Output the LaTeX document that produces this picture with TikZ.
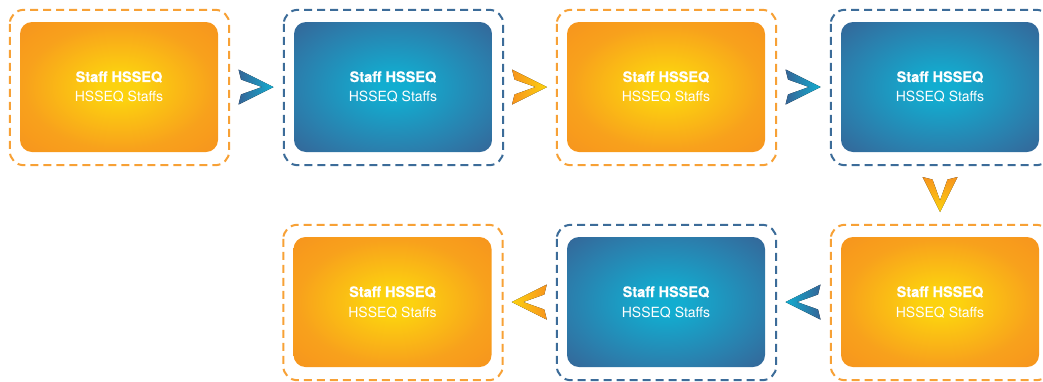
\documentclass[tikz,border=0pt]{standalone}
\usepackage{fontspec}
\setmainfont{TeX Gyre Heros}
\newfontfamily\heavyfont[FakeBold=0.6]{TeX Gyre Heros Bold}
\usetikzlibrary{calc}

% palette
\definecolor{oyellow}{HTML}{FCD20F}
\definecolor{oorange}{HTML}{F8A11C}
\definecolor{odeep}{HTML}{F7941D}
\definecolor{bcyan}{HTML}{12ADD0}
\definecolor{bmid}{HTML}{2A80AE}
\definecolor{bdeep}{HTML}{356597}
\definecolor{odash}{HTML}{F7A136}
\definecolor{bdash}{HTML}{3C6C99}

% glows for the step boxes
\pgfdeclareradialshading{orangeglow}{\pgfpoint{0bp}{0bp}}{%
  color(0bp)=(oyellow); color(5bp)=(oyellow); color(24bp)=(oorange);
  color(36bp)=(odeep); color(50bp)=(odeep)}
\pgfdeclareradialshading{blueglow}{\pgfpoint{0bp}{0bp}}{%
  color(0bp)=(bcyan); color(4bp)=(bcyan); color(24bp)=(bmid);
  color(36bp)=(bdeep); color(50bp)=(bdeep)}

\tikzset{
  card/.style={rounded corners=12pt, minimum width=198pt, minimum height=130pt,
    inner sep=0pt, align=center, text=white,
    font=\fontsize{14}{20}\selectfont},
  orangecard/.style={card, shading=orangeglow},
  bluecard/.style={card, shading=blueglow},
  frame/.style={rounded corners=14pt, line width=2pt, dash pattern=on 8pt off 5pt},
  orangeframe/.style={frame, draw=odash},
  blueframe/.style={frame, draw=bdash},
  toblue/.style={left color=bdeep, right color=bcyan},
  toorange/.style={left color=odeep, right color=oyellow},
  pics/chevron/.style n args={2}{code={
    \fill[rotate=#1, #2] (-17.5,-17.5) -- (17.5,0) -- (-17.5,17.5)
      -- (-15,7.5) -- (6,0) -- (-15,-7.5) -- cycle;}}
}

\newcommand{\cardtext}{{\heavyfont\fontsize{14.5}{20}\selectfont Staff HSSEQ}\\HSSEQ Staffs}

\begin{document}
\begin{tikzpicture}[x=1pt, y=-1pt]
  \useasboundingbox (0,0) rectangle (1043,381);

  % step boxes
  \node[orangecard] (s1) at (119,87)  {\cardtext};
  \node[bluecard]   (s2) at (393,87)  {\cardtext};
  \node[orangecard] (s3) at (666,87)  {\cardtext};
  \node[bluecard]   (s4) at (940,87)  {\cardtext};
  \node[orangecard] (s5) at (940,302) {\cardtext};
  \node[bluecard]   (s6) at (666,302) {\cardtext};
  \node[orangecard] (s7) at (392.5,302) {\cardtext};

  % dashed frames around each box
  \foreach \n/\s in {s1/orangeframe, s2/blueframe, s3/orangeframe, s4/blueframe,
                     s5/orangeframe, s6/blueframe, s7/orangeframe}
    \draw[\s] ($(\n.north west)+(-10,-12)$) rectangle ($(\n.south east)+(11,13)$);

  % chevrons between consecutive steps
  \coordinate (c12) at ($(s1.east)!0.5!(s2.west)$);
  \coordinate (c23) at ($(s2.east)!0.5!(s3.west)$);
  \coordinate (c34) at ($(s3.east)!0.5!(s4.west)$);
  \coordinate (c45) at ($(s4.south)!0.5!(s5.north)$);
  \coordinate (c56) at ($(s5.west)!0.5!(s6.east)$);
  \coordinate (c67) at ($(s6.west)!0.5!(s7.east)$);

  \pic at (c12) {chevron={0}{toblue}};
  \pic at (c23) {chevron={0}{toorange}};
  \pic at (c34) {chevron={0}{toblue}};
  \pic at (c45) {chevron={-90}{top color=odeep, bottom color=oyellow}};
  \pic at (c56) {chevron={180}{left color=bcyan, right color=bdeep}};
  \pic at (c67) {chevron={180}{left color=oyellow, right color=odeep}};
\end{tikzpicture}
\end{document}
